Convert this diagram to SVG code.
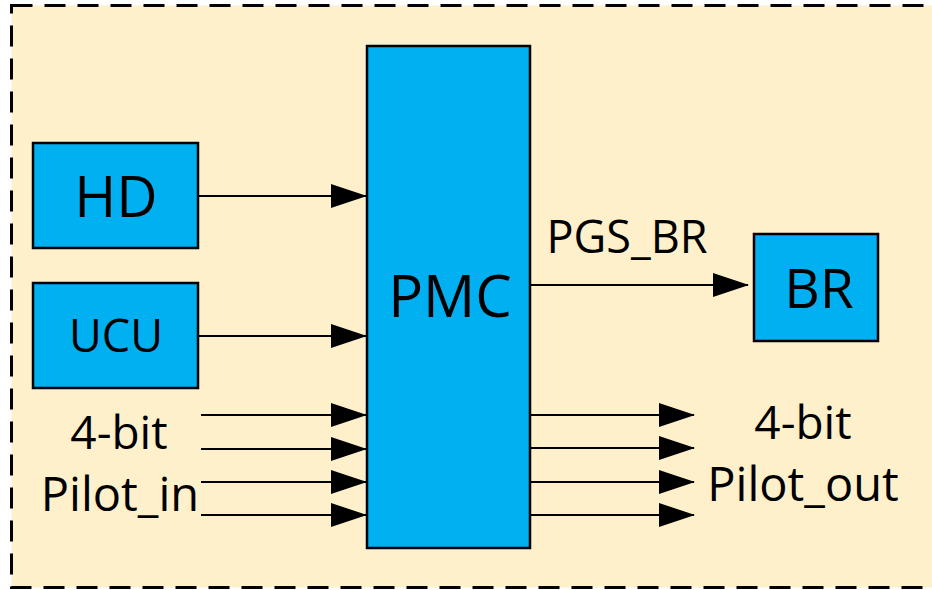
<svg xmlns="http://www.w3.org/2000/svg" width="932" height="590" viewBox="0 0 932 590">
<defs>
<marker id="ah" markerUnits="userSpaceOnUse" markerWidth="36" markerHeight="24" refX="35" refY="12" orient="auto">
<path d="M0,0 L36,12 L0,24 Z" fill="#000"/>
</marker>
<style>
.box{fill:#00B0F0;stroke:#000;stroke-width:2.5}
.t{font-family:"Open Sans","Noto Sans",sans-serif;fill:#000;text-anchor:middle}
.c{stroke:#000;stroke-width:2.2;fill:none;marker-end:url(#ah)}
</style>
</defs>
<rect x="0" y="0" width="932" height="590" fill="#fff"/>
<rect x="11.5" y="5.5" width="940" height="582" fill="#FFF0CC" stroke="#000" stroke-width="3" stroke-dasharray="21 12"/>
<g id="connectors">
<line class="c" x1="198" y1="196" x2="366" y2="196"/>
<line class="c" x1="198" y1="336" x2="366" y2="336"/>
<line class="c" x1="201" y1="415" x2="366" y2="415"/>
<line class="c" x1="201" y1="449" x2="366" y2="449"/>
<line class="c" x1="201" y1="482" x2="366" y2="482"/>
<line class="c" x1="201" y1="515" x2="366" y2="515"/>
<line class="c" x1="530" y1="285" x2="748" y2="285"/>
<line class="c" x1="530" y1="415" x2="694" y2="415"/>
<line class="c" x1="530" y1="448" x2="694" y2="448"/>
<line class="c" x1="530" y1="482" x2="694" y2="482"/>
<line class="c" x1="530" y1="515" x2="694" y2="515"/>
</g>
<g id="HD">
<rect class="box" x="33" y="143" width="165" height="105"/>
<text class="t" x="116" y="217" font-size="57">HD</text>
</g>
<g id="UCU">
<rect class="box" x="33" y="283" width="165" height="105"/>
<text class="t" x="116" y="352" font-size="45">UCU</text>
</g>
<g id="PMC">
<rect class="box" x="367" y="46" width="163" height="502"/>
<text class="t" x="450" y="317" font-size="58">PMC</text>
</g>
<g id="BR">
<rect class="box" x="754" y="234" width="124" height="107"/>
<text class="t" x="819" y="308" font-size="55">BR</text>
</g>
<g id="labels">
<text class="t" x="119" y="449" font-size="46">4-bit</text>
<text class="t" x="120" y="511" font-size="47">Pilot_in</text>
<text class="t" x="627" y="253" font-size="45">PGS_BR</text>
<text class="t" x="803" y="439" font-size="46">4-bit</text>
<text class="t" x="803" y="501" font-size="47">Pilot_out</text>
</g>
</svg>
